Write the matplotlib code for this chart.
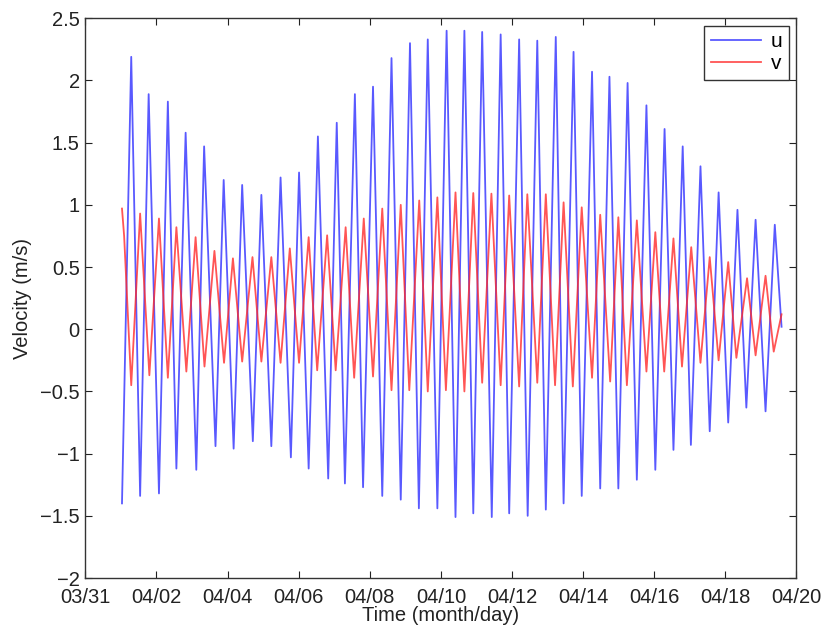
import matplotlib
matplotlib.use("Agg")
import matplotlib.pyplot as plt

# ---- data: extrema (time in days after 03/31 00:00) ----
u_time = [1.03, 1.29, 1.54, 1.78, 2.07, 2.32, 2.56, 2.82, 3.12, 3.34, 3.66, 3.89,
          4.17, 4.41, 4.71, 4.95, 5.23, 5.49, 5.78, 6.01, 6.28, 6.54, 6.83, 7.07,
          7.30, 7.58, 7.81, 8.09, 8.35, 8.61, 8.87, 9.13, 9.38, 9.63, 9.90, 10.16,
          10.41, 10.66, 10.91, 11.16, 11.43, 11.68, 11.92, 12.20, 12.44, 12.71, 12.95, 13.23,
          13.45, 13.73, 13.96, 14.25, 14.48, 14.74, 14.99, 15.25, 15.51, 15.78, 16.03, 16.29,
          16.54, 16.80, 17.03, 17.30, 17.56, 17.81, 18.08, 18.34, 18.59, 18.85, 19.13, 19.39,
          19.58]
u_vel = [-1.40, 2.19, -1.34, 1.89, -1.32, 1.83, -1.12, 1.58, -1.13, 1.47, -0.94, 1.20,
         -0.96, 1.16, -0.90, 1.08, -0.94, 1.22, -1.03, 1.26, -1.12, 1.55, -1.20, 1.66,
         -1.24, 1.89, -1.27, 1.95, -1.34, 2.18, -1.37, 2.30, -1.44, 2.33, -1.44, 2.40,
         -1.51, 2.40, -1.48, 2.39, -1.51, 2.37, -1.48, 2.33, -1.50, 2.32, -1.45, 2.35,
         -1.40, 2.23, -1.34, 2.07, -1.28, 2.03, -1.28, 1.98, -1.21, 1.80, -1.13, 1.61,
         -0.97, 1.47, -0.93, 1.31, -0.82, 1.10, -0.75, 0.96, -0.63, 0.88, -0.66, 0.84,
         0.02]

v_time = [1.03, 1.09, 1.29, 1.54, 1.80, 2.07, 2.32, 2.56, 2.84, 3.10, 3.35, 3.63,
          3.90, 4.15, 4.41, 4.70, 4.95, 5.23, 5.49, 5.75, 6.01, 6.28, 6.52, 6.80,
          7.04, 7.32, 7.56, 7.83, 8.09, 8.35, 8.61, 8.87, 9.11, 9.39, 9.63, 9.90,
          10.14, 10.41, 10.66, 10.91, 11.16, 11.42, 11.68, 11.92, 12.20, 12.43, 12.71, 12.95,
          13.21, 13.45, 13.71, 13.96, 14.25, 14.48, 14.76, 14.99, 15.23, 15.51, 15.78, 16.03,
          16.28, 16.54, 16.78, 17.04, 17.30, 17.56, 17.81, 18.08, 18.31, 18.61, 18.85, 19.13,
          19.36, 19.58]
v_vel = [0.97, 0.75, -0.45, 0.93, -0.37, 0.89, -0.39, 0.82, -0.34, 0.74, -0.30, 0.63,
         -0.27, 0.57, -0.26, 0.58, -0.26, 0.58, -0.27, 0.65, -0.27, 0.74, -0.33, 0.755,
         -0.33, 0.82, -0.39, 0.89, -0.38, 0.97, -0.49, 1.00, -0.49, 1.035, -0.50, 1.06,
         -0.49, 1.10, -0.50, 1.095, -0.43, 1.09, -0.45, 1.075, -0.46, 1.085, -0.43, 1.085,
         -0.45, 1.02, -0.46, 0.98, -0.39, 0.92, -0.42, 0.90, -0.45, 0.875, -0.34, 0.78,
         -0.34, 0.73, -0.30, 0.66, -0.27, 0.58, -0.25, 0.54, -0.23, 0.41, -0.21, 0.43,
         -0.18, 0.12]

x_ticks = [0, 2, 4, 6, 8, 10, 12, 14, 16, 18, 20]
x_labels = ["03/31", "04/02", "04/04", "04/06", "04/08", "04/10",
            "04/12", "04/14", "04/16", "04/18", "04/20"]
y_ticks = [-2, -1.5, -1, -0.5, 0, 0.5, 1, 1.5, 2, 2.5]
y_labels = ["\u22122", "\u22121.5", "\u22121", "\u22120.5", "0", "0.5", "1", "1.5", "2", "2.5"]

# ---- figure ----
plt.rcParams['font.family'] = ['Liberation Sans', 'DejaVu Sans']
fig = plt.figure(figsize=(8.24, 6.28), dpi=100)
ax = fig.add_axes([0.1036, 0.0796, 0.8630, 0.8913])

ax.plot(u_time, u_vel, color='#3030ff', lw=1.3, alpha=0.8, label='u')
ax.plot(v_time, v_vel, color='#ff2a2a', lw=1.3, alpha=0.8, label='v')

ax.set_xlim(0, 20)
ax.set_ylim(-2, 2.5)
ax.set_xticks(x_ticks)
ax.set_xticklabels(x_labels)
ax.set_yticks(y_ticks)
ax.set_yticklabels(y_labels)
ax.tick_params(direction='in', length=5, width=0.8, top=True, right=True,
               labelsize=14.5, colors='#222222')
ax.tick_params(axis='x', pad=7.5)
ax.tick_params(axis='y', pad=4)
for s in ax.spines.values():
    s.set_color('#333333')
    s.set_linewidth(1.0)

ax.set_xlabel('Time (month/day)', fontsize=14.5, labelpad=-1, color='#222222')
ax.set_ylabel('Velocity (m/s)', fontsize=14.5, labelpad=6, color='#222222')

leg = ax.legend(loc='upper right', bbox_to_anchor=(1 - 7.4 / 711, 1 - 7.7 / 560),
                borderaxespad=0, fontsize=15, handlelength=2.4, handletextpad=0.5,
                fancybox=False, framealpha=1, edgecolor='#333333',
                borderpad=0.3, labelspacing=0.15)
leg.get_frame().set_linewidth(1.0)

fig.savefig('out.png', dpi=100)
